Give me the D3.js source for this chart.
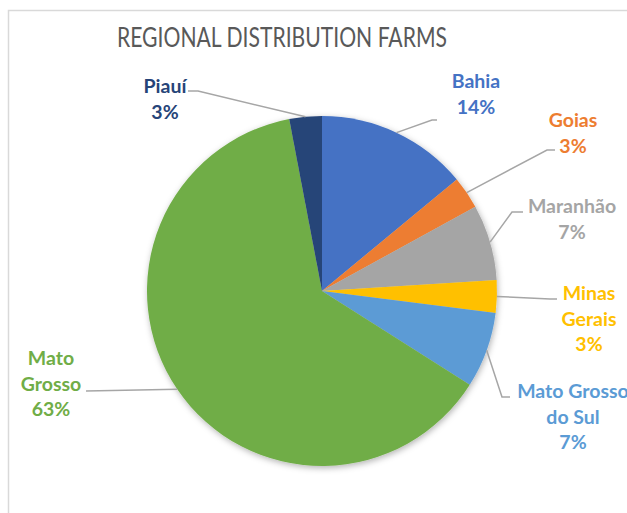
<!DOCTYPE html>
<html>
<head>
<meta charset="utf-8">
<script src="https://cdn.jsdelivr.net/npm/d3@7"></script>
<style>
html,body{margin:0;padding:0;background:#fff;}
svg{display:block;}
</style>
</head>
<body>
<div id="pie"></div>
<script>
(function(){

const regions = ["Bahia","Goias","Maranhão","Minas Gerais","Mato Grosso do Sul","Mato Grosso","Piauí"];
const shares = [14,3,7,3,7,63,3];
const colors = ["#4472C4","#ED7D31","#A5A5A5","#FFC000","#5B9BD5","#70AD47","#264478"];
// label text lines, broken as in the picture
const labelLines = [["Bahia"],["Goias"],["Maranhão"],["Minas","Gerais"],["Mato Grosso","do Sul"],["Mato","Grosso"],["Piauí"]];

// label layout: text centre x, first baseline y, leader elbow and end
const labelPos = [
{x:476,y:88,elbow:[432,120],end:[437,120]},
{x:573,y:127,elbow:[547,150],end:[555,150]},
{x:572,y:213,elbow:[512,212],end:[523,212]},
{x:589,y:300,elbow:[550,299],end:[557,299]},
{x:573,y:398,elbow:[502,397],end:[510,397]},
{x:51,y:365,elbow:[86,391],end:[86,391]},
{x:165,y:93,elbow:[198,91],end:[188,91]}
];

const width = 627;
const height = 513;
const cx = 322, cy = 291, radius = 175;
const lineH = 25.5;

const svg = d3.select("#pie")
.append("svg")
.attr("width",width)
.attr("height",height);

// chart area border
svg.append("rect")
.attr("x",8.5)
.attr("y",10.5)
.attr("width",width+20)
.attr("height",height+20)
.attr("fill","#fff")
.attr("stroke","#d9d9d9")
.attr("stroke-width",1.5);

const defs = svg.append("defs");
defs.append("filter")
.attr("id","shadow")
.attr("x","-20%").attr("y","-20%")
.attr("width","140%").attr("height","140%")
.append("feDropShadow")
.attr("dx",1).attr("dy",2)
.attr("stdDeviation",3)
.attr("flood-color","#000")
.attr("flood-opacity",0.3);

// title
svg.append("text")
.attr("x",282)
.attr("y",47)
.attr("text-anchor","middle")
.attr("font-family","Lato, sans-serif")
.attr("font-size","26px")
.attr("fill","#595959")
.attr("textLength",330)
.attr("lengthAdjust","spacingAndGlyphs")
.text("REGIONAL DISTRIBUTION FARMS");

const data = regions.map((r,i)=>({region:r,value:shares[i],i:i}));

const pie = d3.pie()
.sort(null)
.value(d=>d.value);

const arc = d3.arc()
.innerRadius(0)
.outerRadius(radius);

const arcs = pie(data);

const g = svg.append("g")
.attr("transform",`translate(${cx},${cy})`);

g.append("g")
.attr("filter","url(#shadow)")
.selectAll("path")
.data(arcs)
.join("path")
.attr("d",arc)
.attr("fill",d=>colors[d.data.i]);

// leader lines from slice edge at mid angle
const edge = d=>{
const a = (d.startAngle+d.endAngle)/2;
return [cx+radius*Math.sin(a), cy-radius*Math.cos(a)];
};

svg.append("g")
.selectAll("polyline")
.data(arcs)
.join("polyline")
.attr("points",d=>{
const p = labelPos[d.data.i];
return [edge(d),p.elbow,p.end].map(q=>q.join(",")).join(" ");
})
.attr("fill","none")
.attr("stroke","#a6a6a6")
.attr("stroke-width",1.5);

// labels
const labels = svg.append("g")
.attr("font-family","Lato, sans-serif")
.attr("font-weight","bold")
.attr("font-size","19.5px")
.attr("text-anchor","middle");

arcs.forEach(d=>{
const i = d.data.i;
const p = labelPos[i];
const lines = labelLines[i].concat([d3.format(".0f")(d.data.value)+"%"]);
const t = labels.append("text")
.attr("fill",colors[i]);
lines.forEach((s,k)=>{
t.append("tspan")
.attr("x",p.x)
.attr("y",p.y+k*lineH)
.text(s);
});
});

})();
</script>
</body>
</html>
